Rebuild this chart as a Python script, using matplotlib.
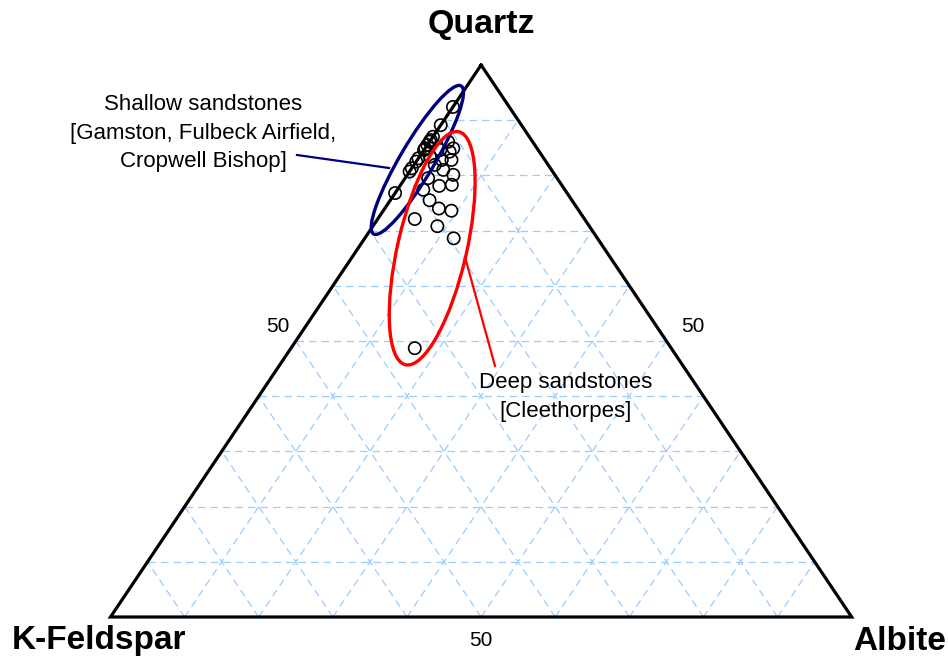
import numpy as np
import matplotlib
matplotlib.use("Agg")
import matplotlib.pyplot as plt
from matplotlib.patches import Ellipse

plt.rcParams['font.family'] = ['Liberation Sans', 'DejaVu Sans']

# compositions in percent (Quartz, K-Feldspar, Albite)
quartz = [92.4, 89.1, 87.0, 86.4, 86.1, 85.5, 84.9, 86.1, 84.9, 84.3,
          84.6, 84.6, 82.8, 82.8, 83.1, 82.5, 83.4, 81.9, 81.0, 80.1,
          81.3, 80.7, 79.5, 78.1, 78.3, 77.4, 76.8, 75.5, 74.0, 73.6,
          72.1, 70.8, 68.6, 48.7]
kfeldspar = [7.6, 10.9, 13.0, 13.6, 13.9, 14.5, 15.1, 11.4, 11.3, 12.1,
             15.4, 13.2, 12.6, 13.9, 16.9, 17.5, 15.2, 15.3, 14.6, 13.7,
             18.7, 19.3, 17.4, 16.6, 14.8, 19.1, 23.2, 19.2, 18.7, 17.2,
             22.9, 20.5, 19.4, 34.6]
albite = [0.0, 0.0, 0.0, 0.0, 0.0, 0.0, 0.0, 2.5, 3.8, 3.6,
          0.0, 2.2, 4.6, 3.3, 0.0, 0.0, 1.4, 2.8, 4.4, 6.2,
          0.0, 0.0, 3.1, 5.3, 6.9, 3.5, 0.0, 5.3, 7.3, 9.2,
          5.0, 8.7, 12.0, 16.7]

grid_levels = [10, 20, 30, 40, 50, 60, 70, 80, 90]

# triangle size in pixels (base, height)
W, H = 741.2, 552.0


def tern_xy(q, k, a):
    q = np.asarray(q, dtype=float)
    a = np.asarray(a, dtype=float)
    k = np.asarray(k, dtype=float)
    tot = q + k + a
    q, a = q / tot, a / tot
    return W * (a + q / 2), H * q


fig = plt.figure(figsize=(9.48, 6.58), dpi=100)
ax = fig.add_axes([110.5 / 948, 41 / 658, W / 948, H / 658])
ax.set_xlim(0, W)
ax.set_ylim(0, H)
ax.set_aspect('equal')
ax.axis('off')

# dashed grid
gkw = dict(color='#99ccff', lw=0.9, dashes=(6, 4), zorder=1)
for g in grid_levels:
    t = g
    x, y = tern_xy([t, t], [100 - t, 0], [0, 100 - t])
    ax.plot(x, y, **gkw)
    x, y = tern_xy([0, 100 - t], [100 - t, 0], [t, t])
    ax.plot(x, y, **gkw)
    x, y = tern_xy([0, 100 - t], [t, t], [100 - t, 0])
    ax.plot(x, y, **gkw)

# outline
x, y = tern_xy([100, 0, 0, 100], [0, 100, 0, 0], [0, 0, 100, 0])
ax.plot(x, y, color='black', lw=2.3, zorder=3, solid_joinstyle='miter', clip_on=False)

# samples
x, y = tern_xy(quartz, kfeldspar, albite)
ax.scatter(x, y, s=78, facecolors='none', edgecolors='black', linewidths=1.2,
           zorder=4, clip_on=False)

# groupings
cx, cy = tern_xy(82.8, 17.2, 0.0)
ax.add_patch(Ellipse((cx, cy), 172, 34, angle=59.4, fill=False,
                     edgecolor='#00007f', lw=2.4, zorder=5))
cx, cy = tern_xy(66.8, 23.2, 10.0)
ax.add_patch(Ellipse((cx, cy), 239, 69, angle=77.1, fill=False,
                     edgecolor='red', lw=2.4, zorder=5))

ax.plot([186.5, 278.5], [462, 449], color='#00007f', lw=1.6, zorder=5, clip_on=False)
ax.plot([354.5, 384.5], [360, 251], color='red', lw=1.6, zorder=5, clip_on=False)

ax.text(92.5, 484, 'Shallow sandstones\n[Gamston, Fulbeck Airfield,\nCropwell Bishop]',
        ha='center', va='center', fontsize=16, linespacing=1.45)
ax.text(455.5, 220, 'Deep sandstones\n[Cleethorpes]',
        ha='center', va='center', fontsize=16, linespacing=1.45)

# vertex titles
ax.text(W / 2, H + 40, 'Quartz', ha='center', va='center',
        fontsize=24.5, fontweight='bold')
ax.text(-12, -24, 'K-Feldspar', ha='center', va='center',
        fontsize=24, fontweight='bold')
ax.text(836, -24, 'Albite', ha='right', va='center',
        fontsize=24, fontweight='bold')

# midpoint labels
ax.text(167.5, 291, '50', ha='center', va='center', fontsize=15)
ax.text(582.5, 291, '50', ha='center', va='center', fontsize=15)
ax.text(370.5, -24, '50', ha='center', va='center', fontsize=15)

fig.savefig('out.png', dpi=100)
